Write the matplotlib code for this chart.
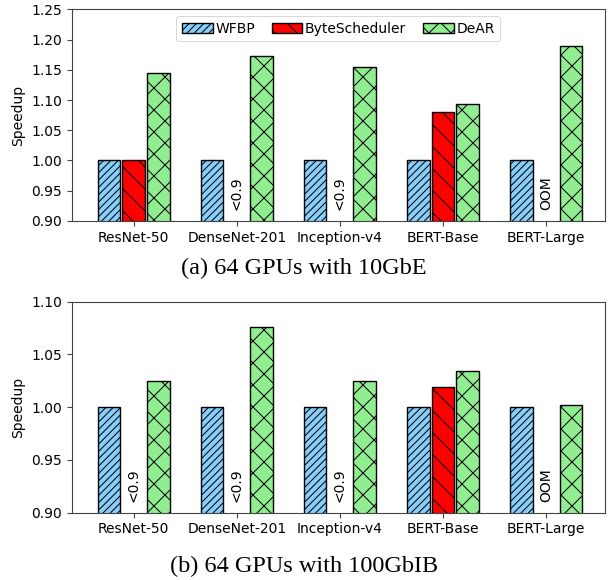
import numpy as np
import matplotlib
matplotlib.use('Agg')
import matplotlib.pyplot as plt

# models on the x axis
models = ['ResNet-50', 'DenseNet-201', 'Inception-v4', 'BERT-Base', 'BERT-Large']
methods = ['WFBP', 'ByteScheduler', 'DeAR']

# (a) 64 GPUs with 10GbE, None -> bar not drawn, a note is written instead
wfbp_10g = [1.0, 1.0, 1.0, 1.0, 1.0]
bytes_10g = [1.0, None, None, 1.081, None]
dear_10g = [1.144, 1.172, 1.155, 1.093, 1.189]
notes_10g = ['', '<0.9', '<0.9', '', 'OOM']

# (b) 64 GPUs with 100GbIB
wfbp_100g = [1.0, 1.0, 1.0, 1.0, 1.0]
bytes_100g = [None, None, None, 1.019, None]
dear_100g = [1.025, 1.076, 1.025, 1.034, 1.002]
notes_100g = ['<0.9', '<0.9', '<0.9', '', 'OOM']

colors = ['lightskyblue', 'red', 'lightgreen']
hatches = ['///', '\\', 'x']

# the original was drawn at a low dpi (coarse hatches), keep that and scale sizes up
DPI = 66
S = 100.0 / DPI
plt.rcParams['hatch.linewidth'] = 1.1
plt.rcParams['axes.linewidth'] = 0.8 * S
plt.rcParams['xtick.major.width'] = 0.8 * S
plt.rcParams['ytick.major.width'] = 0.8 * S
plt.rcParams['xtick.major.size'] = 3.5 * S
plt.rcParams['ytick.major.size'] = 3.5 * S
plt.rcParams['xtick.major.pad'] = 3.5 * S
plt.rcParams['ytick.major.pad'] = 3.5 * S
plt.rcParams['axes.labelpad'] = 4.0 * S
plt.rcParams['axes.edgecolor'] = '#444444'
plt.rcParams['xtick.color'] = '#444444'
plt.rcParams['ytick.color'] = '#444444'
plt.rcParams['xtick.labelcolor'] = 'black'
plt.rcParams['ytick.labelcolor'] = 'black'

fig = plt.figure(figsize=(608.0 / DPI, 580.0 / DPI), dpi=DPI)
ax1 = fig.add_axes([0.118, 0.619, 0.877, 0.365])
ax2 = fig.add_axes([0.118, 0.116, 0.877, 0.364])


def draw(ax, series, notes, ylim, yticks, legend):
    x = np.arange(len(models))
    width = 0.22
    offsets = [-0.24, 0.0, 0.24]
    for i, vals in enumerate(series):
        xs = [x[j] + offsets[i] for j in range(len(vals)) if vals[j] is not None]
        ys = [v for v in vals if v is not None]
        ax.bar(xs, ys, width, color=colors[i], edgecolor='black', hatch=hatches[i],
               linewidth=1.0 * S, label=methods[i])
    for j, note in enumerate(notes):
        if note:
            ax.text(x[j] + offsets[1], 0.05, note, rotation=90, ha='center', va='bottom',
                    fontsize=10 * S, transform=ax.get_xaxis_transform())
    ax.set_xticks(x)
    ax.set_xticklabels(models, fontsize=10 * S)
    ax.set_xlim(-0.6, 4.57)
    ax.set_ylim(*ylim)
    ax.set_yticks(yticks)
    ax.set_yticklabels(['%.2f' % t for t in yticks], fontsize=10 * S)
    ax.set_ylabel('Speedup', fontsize=10 * S)
    if legend:
        ax.legend(loc='upper center', ncol=3, fontsize=10 * S, handletextpad=0.2,
                  columnspacing=1.2, handlelength=2.2)


draw(ax1, [wfbp_10g, bytes_10g, dear_10g], notes_10g, (0.90, 1.25),
     [0.90, 0.95, 1.00, 1.05, 1.10, 1.15, 1.20, 1.25], True)
draw(ax2, [wfbp_100g, bytes_100g, dear_100g], notes_100g, (0.90, 1.10),
     [0.90, 0.95, 1.00, 1.05, 1.10], False)

fig.text(0.5, 0.538, '(a) 64 GPUs with 10GbE', ha='center', va='center',
         fontsize=17.5 * S, family='Liberation Serif')
fig.text(0.5, 0.024, '(b) 64 GPUs with 100GbIB', ha='center', va='center',
         fontsize=17.5 * S, family='Liberation Serif')

fig.savefig('out.png', dpi=DPI)
